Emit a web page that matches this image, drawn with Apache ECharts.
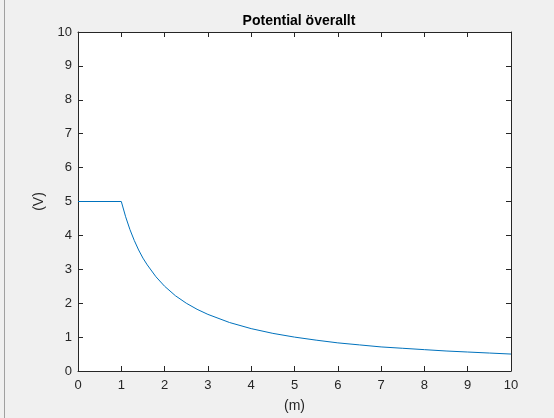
<!DOCTYPE html>
<html><head><meta charset="utf-8">
<script src="https://cdn.jsdelivr.net/npm/echarts@6/dist/echarts.min.js"></script>
<style>html,body{margin:0;padding:0;background:#f0f0f0;}#c{width:554px;height:418px;}</style>
</head><body><div id="c"></div>
<script>
const xValues = [0, 1, 1.1, 1.2, 1.3, 1.4, 1.5, 1.6, 1.8, 2, 2.25, 2.5, 2.75, 3, 3.5, 4, 4.5, 5, 5.5, 6, 6.5, 7, 7.5, 8, 8.5, 9, 9.5, 10];
const potential = [5, 5, 4.55, 4.17, 3.85, 3.57, 3.33, 3.13, 2.78, 2.5, 2.22, 2.0, 1.82, 1.67, 1.43, 1.25, 1.11, 1.0, 0.91, 0.83, 0.77, 0.71, 0.67, 0.63, 0.59, 0.56, 0.53, 0.5];
const titleText = 'Potential överallt';
const xName = '(m)';
const yName = '(V)';

const axisColor = '#262626';
const font = 'Liberation Sans, Arial, Helvetica, sans-serif';
function axisBase(extra) {
  return Object.assign({
    type: 'value', min: 0, max: 10, interval: 1,
    axisLine: { show: true, onZero: false, lineStyle: { color: axisColor, width: 1 } },
    axisTick: { show: true, inside: true, length: 5, lineStyle: { color: axisColor } },
    splitLine: { show: false },
    axisLabel: { color: axisColor, fontSize: 13, fontFamily: font }
  }, extra);
}
const chart = echarts.init(document.getElementById('c'), null, { renderer: 'canvas' });
chart.setOption({
  backgroundColor: '#f0f0f0',
  animation: false,
  title: { text: titleText, left: 294, top: 9, textAlign: 'center',
    textStyle: { fontSize: 14, fontWeight: 'bold', color: '#000', fontFamily: font } },
  grid: { left: 78, right: 43, top: 32, bottom: 45, show: true, backgroundColor: '#ffffff', borderWidth: 0 },
  xAxis: [
    axisBase({ position: 'bottom', name: xName, nameLocation: 'middle', nameGap: 28,
      nameTextStyle: { color: axisColor, fontSize: 14, fontFamily: font },
      axisLabel: { color: axisColor, fontSize: 13, fontFamily: font, margin: 8 } }),
    axisBase({ position: 'top', axisLabel: { show: false } })
  ],
  yAxis: [
    axisBase({ position: 'left', name: yName, nameLocation: 'middle', nameGap: 25,
      nameTextStyle: { color: axisColor, fontSize: 14, fontFamily: font },
      axisLabel: { color: axisColor, fontSize: 13, fontFamily: font, margin: 6 } }),
    axisBase({ position: 'right', axisLabel: { show: false } })
  ],
  series: [{
    type: 'line', xAxisIndex: 0, yAxisIndex: 0,
    data: xValues.map((x, i) => [x, potential[i]]),
    showSymbol: false, smooth: false,
    lineStyle: { color: '#0072BD', width: 1 }
  }],
  graphic: [{ type: 'line', shape: { x1: 4.5, y1: 0, x2: 4.5, y2: 418 }, style: { stroke: '#a0a0a0', lineWidth: 1 } }]
});
</script></body></html>
